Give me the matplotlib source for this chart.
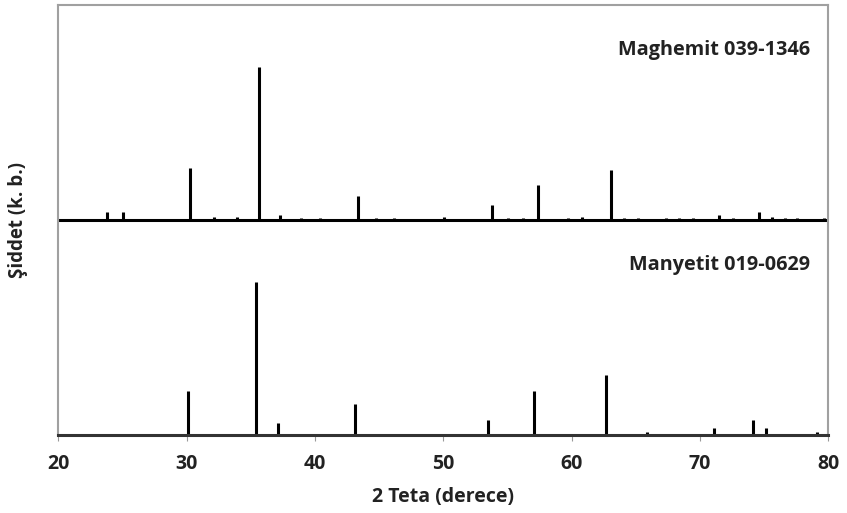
import matplotlib
matplotlib.use('Agg')
import matplotlib.pyplot as plt

# Maghemit 039-1346 (2 teta, relative intensity)
maghemit_2t = [23.77, 25.07, 30.26, 32.16, 33.90, 35.64, 37.31, 38.90, 40.43,
               43.33, 44.73, 46.13, 50.08, 53.82, 55.02, 56.19, 57.36, 59.70,
               60.81, 63.04, 64.10, 65.17, 67.35, 68.39, 69.43, 71.51, 72.55,
               74.62, 75.61, 76.60, 77.59, 79.67]
maghemit_int = [5, 5, 34, 2, 2, 100, 3, 1.5, 1.5,
                16, 1.5, 1.5, 2, 10, 1.5, 1.5, 23, 1.5,
                2, 33, 1.5, 1.5, 1.5, 1.5, 1.5, 3, 1.5,
                5, 2, 1.5, 1.5, 1.5]

# Manyetit 019-0629
manyetit_2t = [30.08, 35.43, 37.10, 43.12, 53.51, 57.04, 62.65, 65.87, 71.09,
               74.11, 75.15, 79.10]
manyetit_int = [29, 100, 8, 20, 10, 29, 39, 2, 4.5, 10, 4.5, 2]

labels = ['Maghemit 039-1346', 'Manyetit 019-0629']
xticks = [20, 30, 40, 50, 60, 70, 80]

plt.rcParams['font.family'] = ['Open Sans', 'DejaVu Sans']

fig = plt.figure(figsize=(8.47, 5.13), dpi=100)
ax = fig.add_axes([0.0688, 0.152, 0.9092, 0.838])

panel = 140.5  # height of each panel in intensity units
offset = panel

ax.vlines(manyetit_2t, 0, manyetit_int, color='black', lw=2.2)
ax.vlines(maghemit_2t, offset, [offset + v for v in maghemit_int],
          color='black', lw=2.2)
ax.axhline(offset, color='black', lw=2.2)

ax.text(78.6, offset + panel * 0.79, labels[0], ha='right', va='center',
        fontsize=14.3, fontweight='bold', color='#222222')
ax.text(78.6, panel * 0.79, labels[1], ha='right', va='center',
        fontsize=14.3, fontweight='bold', color='#222222')

ax.set_xlim(20, 80)
ax.set_ylim(0, 2 * panel)
ax.set_xticks(xticks)
ax.set_yticks([])
ax.tick_params(axis='x', length=4, width=0.8, color='#999999',
               labelsize=14, pad=10, labelcolor='#222222')
for lab in ax.get_xticklabels():
    lab.set_fontweight('bold')

for s in ['top', 'left', 'right']:
    ax.spines[s].set_color('#a0a0a0')
    ax.spines[s].set_linewidth(1.5)
ax.spines['bottom'].set_color('#333333')
ax.spines['bottom'].set_linewidth(2.2)

ax.set_xlabel('2 Teta (derece)', fontsize=14, fontweight='bold',
              color='#222222', labelpad=9)
ax.set_ylabel('Şiddet (k. b.)', fontsize=13.5, fontweight='bold',
              color='#222222', labelpad=22)

fig.savefig('out.png', dpi=100)
